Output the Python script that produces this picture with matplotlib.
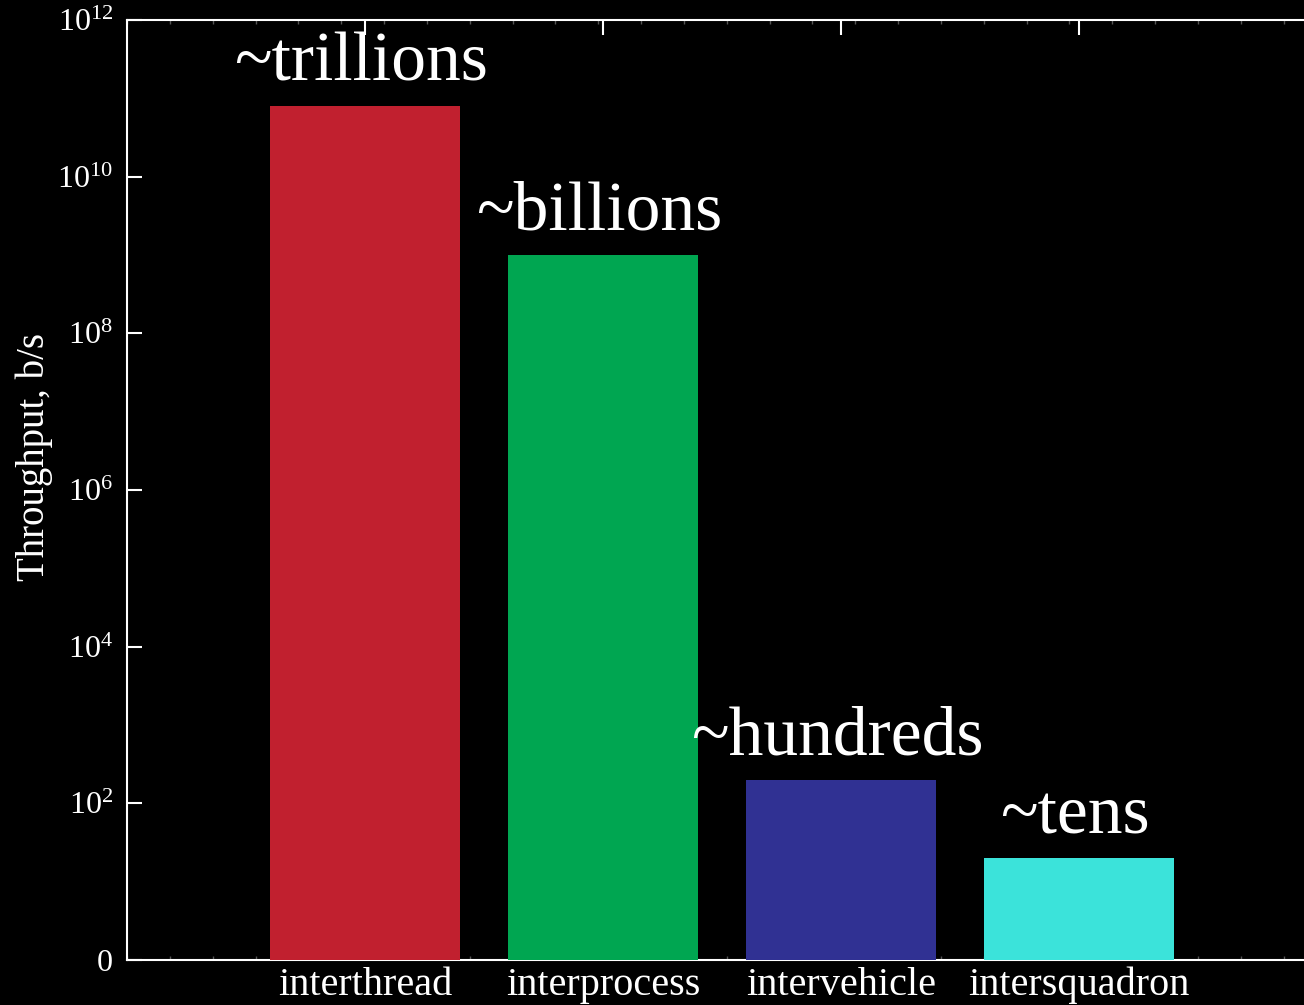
import numpy as np
import matplotlib.pyplot as plt
from matplotlib.ticker import FixedLocator, MultipleLocator

# data
categories = ['interthread', 'interprocess', 'intervehicle', 'intersquadron']
throughput = [8e10, 1e9, 200, 20]
annotations = ['~trillions', '~billions', '~hundreds', '~tens']
bar_colors = ['#c1202f', '#00a651', '#303193', '#3be3da']
ytick_exp = [0, 2, 4, 6, 8, 10, 12]

plt.rcParams['font.family'] = 'Liberation Serif'
plt.rcParams['mathtext.fontset'] = 'custom'
plt.rcParams['mathtext.rm'] = 'Liberation Serif'
plt.rcParams['mathtext.it'] = 'Liberation Serif:italic'

fig = plt.figure(figsize=(13.04, 10.05), dpi=100, facecolor='black')
ax = fig.add_axes([127 / 1304, 45 / 1005, 1177 / 1304, 940 / 1005])
ax.set_facecolor('black')

x = np.arange(1, len(categories) + 1)
ax.bar(x, throughput, width=0.8, color=bar_colors, zorder=3)

ax.set_yscale('log')
ax.set_ylim(1, 1e12)
ax.set_xlim(0, 1177 / 238)

ax.yaxis.set_major_locator(FixedLocator([10.0 ** e for e in ytick_exp]))
ax.set_yticklabels(['0' if e == 0 else r'$10^{%d}$' % e for e in ytick_exp])
ax.yaxis.set_minor_locator(FixedLocator([]))
ax.set_xticks(x)
ax.set_xticklabels(categories)
ax.xaxis.set_minor_locator(MultipleLocator(0.18))

ax.tick_params(axis='both', which='major', direction='in', length=11, width=1.5,
               color='white', labelcolor='white', top=True, right=False)
ax.tick_params(axis='x', which='major', pad=5, labelsize=29)
ax.tick_params(axis='y', which='major', pad=10, labelsize=23)
ax.tick_params(axis='x', which='minor', direction='in', length=3, width=1,
               color='#555555', top=True)

for side in ['left', 'bottom', 'top']:
    ax.spines[side].set_color('white')
    ax.spines[side].set_linewidth(1.5)
ax.spines['right'].set_visible(False)

for xi, val, label in zip(x, throughput, annotations):
    ax.annotate(label, (xi, val), xytext=(-3, 18), textcoords='offset points',
                ha='center', va='baseline', color='white', fontsize=50)

ax.set_ylabel('Throughput, b/s', color='white', fontsize=28)
ax.yaxis.set_label_coords(-0.063, 0.535)

fig.savefig('out.png', dpi=100, facecolor='black')
